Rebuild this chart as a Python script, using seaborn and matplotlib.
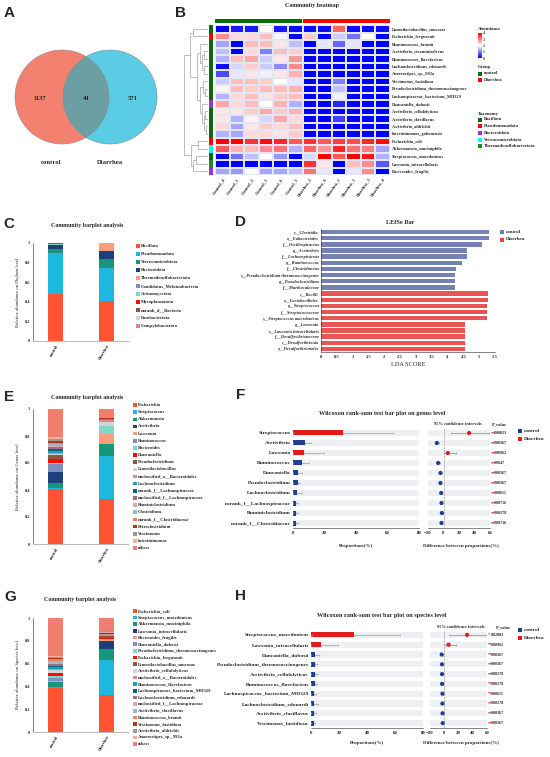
import numpy as np
import pandas as pd
import matplotlib
matplotlib.use("Agg")
import matplotlib.pyplot as plt
import seaborn as sns
from matplotlib.patches import Circle, Rectangle
from matplotlib.colors import LinearSegmentedColormap

# ---------------- data ----------------
# A: Venn
venn_groups = ["control", "Diarrhea"]
venn_counts = [1137, 44, 571]

# B: heatmap
hm_samples = ["Control_4", "Control_1", "Control_2", "Control_5", "Control_6", "Control_3",
              "Diarrhea_2", "Diarrhea_6", "Diarrhea_1", "Diarrhea_5", "Diarrhea_3", "Diarrhea_4"]
hm_species = ["Limosilactobacillus_mucosae", "Escherichia_fergusonii", "Ruminococcus_bromii",
              "Acetivibrio_straminisolvens", "Ruminococcus_flavefaciens", "Lachnoclostridium_edouardi",
              "Anaerostipes_sp._992a", "Vescimonas_fastidiosa", "Pseudoclostridium_thermosuccinogenes",
              "Lachnospiraceae_bacterium_MD329", "Duncaniella_dubosii", "Acetivibrio_cellulolyticus",
              "Acetivibrio_clariflavus", "Acetivibrio_aldrichii", "Intestinimonas_gabonensis",
              "Escherichia_coli", "Akkermansia_muciniphila", "Streptococcus_macedonicus",
              "Lawsonia_intracellularis", "Bacteroides_fragilis"]
hm_phylum = ["Bacillota", "Pseudomonadota"] + ["Bacillota"] * 8 + ["Bacteroidota"] + ["Bacillota"] * 4 + \
            ["Pseudomonadota", "Verrucomicrobiota", "Bacillota", "Thermodesulfobacteriota", "Bacteroidota"]
hm_values = [
    [0.0, 0.2, 0.2, 2.0, 0.2, 0.1, 0.1, 0.1, 3.2, 0.1, 0.1, 0.1],
    [2.9, 2.3, 2.3, 2.5, 2.1, 0.0, 2.4, 0.0, 1.6, 0.9, 2.0, 0.0],
    [1.3, 0.0, 2.5, 2.5, 2.2, 1.5, 0.0, 1.8, 0.8, 1.8, 0.0, 0.0],
    [1.5, 0.0, 2.3, 1.0, 2.5, 2.4, 0.0, 0.0, 0.0, 0.0, 0.0, 0.0],
    [1.4, 2.5, 2.7, 1.6, 2.2, 2.8, 0.0, 0.0, 0.0, 0.0, 0.0, 0.0],
    [0.1, 1.7, 2.4, 1.6, 1.1, 2.9, 0.0, 0.0, 0.0, 0.0, 0.0, 0.0],
    [0.6, 1.8, 2.2, 1.9, 2.2, 2.6, 0.0, 0.0, 0.0, 0.0, 0.0, 0.0],
    [1.6, 2.5, 2.5, 2.4, 2.0, 1.8, 0.0, 0.0, 1.0, 0.0, 0.0, 0.0],
    [2.1, 2.5, 2.4, 2.5, 2.5, 2.6, 0.0, 0.0, 1.5, 0.0, 0.0, 0.0],
    [1.4, 2.3, 2.5, 2.2, 2.4, 2.5, 0.0, 0.0, 1.9, 0.0, 0.0, 0.0],
    [2.7, 2.3, 2.5, 2.0, 2.6, 1.4, 0.0, 0.0, 0.3, 0.0, 0.0, 0.0],
    [2.2, 2.2, 2.4, 2.7, 2.4, 2.6, 0.0, 0.0, 0.0, 0.0, 0.0, 0.0],
    [2.2, 1.4, 2.1, 1.7, 2.7, 2.3, 0.0, 0.0, 0.5, 0.0, 0.0, 0.0],
    [2.3, 1.3, 2.2, 2.4, 2.3, 2.5, 0.0, 0.0, 0.0, 0.0, 0.0, 0.0],
    [1.4, 1.3, 2.3, 2.3, 2.2, 2.4, 0.0, 0.0, 0.0, 0.0, 0.0, 0.0],
    [4.0, 4.0, 3.6, 3.9, 3.7, 3.3, 3.6, 3.3, 3.5, 3.4, 3.7, 3.9],
    [3.3, 2.6, 2.5, 2.9, 3.1, 1.4, 3.2, 2.8, 3.7, 3.1, 3.0, 1.3],
    [0.0, 0.9, 1.5, 2.0, 1.2, 0.0, 1.7, 4.0, 3.3, 4.0, 3.8, 1.4],
    [0.0, 0.0, 0.0, 0.0, 0.0, 0.0, 3.6, 2.2, 0.0, 2.5, 2.9, 0.7],
    [1.3, 1.2, 2.0, 1.3, 1.3, 1.5, 3.1, 1.8, 0.0, 1.8, 2.9, 0.0],
]
# row dendrogram: (left, right, height), leaves are row indices
hm_tree = (
    ((0, 1, 3.2),
     (((2, ((3, 4, 0.8), (5, 6, 0.9), 1.2), 1.6),
       ((7, (8, 9, 0.6), 1.0), (10, ((11, 12, 0.7), (13, 14, 0.5), 0.9), 1.3), 1.7), 2.2)),
     3.8),
    ((15, 16, 2.0), ((17, 18, 2.6), 19, 3.1), 3.6),
    5.0)
tax_names = ["Bacillota", "Pseudomonadota", "Bacteroidota", "Verrucomicrobiota", "Thermodesulfobacteriota"]

# C: phylum level
phylum_names = ["Bacillota", "Pseudomonadota", "Verrucomicrobiota", "Bacteroidota", "Thermodesulfobacteriota",
                "Candidatus_Melainabacteria", "Actinomycetota", "Mycoplasmatota", "norank_d__Bacteria",
                "Fusobacteriota", "Campylobacterota"]
phylum_ctrl = [0.475, 0.42, 0.04, 0.04, 0.004, 0.004, 0.003, 0.008, 0.002, 0.002, 0.002]
phylum_dia = [0.405, 0.345, 0.09, 0.08, 0.065, 0.003, 0.008, 0.001, 0.001, 0.001, 0.001]

# D: LEfSe
lefse_taxa = ["c__Clostridia", "o__Eubacteriales", "f__Oscillospiraceae", "g__Acetivibrio",
              "f__Lachnospiraceae", "g__Ruminococcus", "f__Clostridiaceae",
              "s__Pseudoclostridium thermosuccinogenes", "g__Pseudoclostridium", "f__Muribaculaceae",
              "c__Bacilli", "o__Lactobacillales", "g__Streptococcus", "f__Streptococcaceae",
              "s__Streptococcus macedonicus", "g__Lawsonia", "s__Lawsonia intracellularis",
              "f__Desulfovibrionaceae", "c__Desulfovibrionia", "o__Desulfovibrionales"]
lefse_lda = [5.32, 5.32, 5.10, 4.61, 4.61, 4.46, 4.26, 4.22, 4.22, 4.22,
             5.29, 5.29, 5.24, 5.24, 5.24, 4.55, 4.55, 4.55, 4.55, 4.55]
lefse_group = ["control"] * 10 + ["Diarrhea"] * 10

# E: genus level
genus_names = ["Escherichia", "Streptococcus", "Akkermansia", "Acetivibrio", "Lawsonia", "Ruminococcus",
               "Bacteroides", "Duncaniella", "Pseudoclostridium", "Limosilactobacillus",
               "unclassified_o__Bacteroidales", "Lachnoclostridium", "norank_f__Lachnospiraceae",
               "unclassified_f__Lachnospiraceae", "Ruminiclostridium", "Clostridium",
               "norank_f__Clostridiaceae", "Petroclostridium", "Vescimonas", "Intestinimonas", "others"]
genus_ctrl = [0.41, 0.003, 0.04, 0.08, 0.002, 0.055, 0.01, 0.028, 0.03, 0.005, 0.01,
              0.015, 0.015, 0.012, 0.012, 0.012, 0.01, 0.015, 0.015, 0.015, 0.206]
genus_dia = [0.335, 0.315, 0.09, 0.003, 0.07, 0.003, 0.055, 0.002, 0.003, 0.025, 0.015,
             0.002, 0.002, 0.004, 0.002, 0.002, 0.001, 0.001, 0.002, 0.002, 0.066]

# F: Wilcoxon genus
wg_names = ["Streptococcus", "Acetivibrio", "Lawsonia", "Ruminococcus", "Duncaniella", "Pseudoclostridium",
            "Lachnoclostridium", "norank_f__Lachnospiraceae", "Ruminiclostridium", "norank_f__Clostridiaceae"]
wg_ctrl = [0.3, 7.8, 0.1, 5.9, 3.4, 3.0, 2.5, 2.1, 2.1, 1.9]
wg_ctrl_err = [0.3, 3.6, 0.1, 4.2, 2.3, 1.2, 3.2, 1.1, 1.1, 1.3]
wg_dia = [31.6, 0.1, 7.2, 0.1, 0.0, 0.0, 0.1, 0.0, 0.0, 0.0]
wg_dia_err = [32.1, 0.1, 12.2, 0.1, 0.0, 0.0, 0.1, 0.0, 0.0, 0.0]
wg_diff = [33.0, -8.6, 5.6, -6.9, -3.9, -3.9, -3.0, -2.6, -2.1, -2.6]
wg_lo = [9.4, -11.0, 0.0, -9.0, -5.5, -5.0, -4.5, -3.5, -3.0, -3.5]
wg_hi = [59.0, -6.0, 16.0, -5.0, -2.5, -2.8, -1.5, -1.7, -1.2, -1.7]
wg_p = ["0.00813", "0.00367", "0.00962", "0.0047", "0.00367", "0.00367", "0.00615", "0.00716", "0.00278", "0.00716"]
wg_stars = ["**"] * 10

# G: species level
species_names = ["Escherichia_coli", "Streptococcus_macedonicus", "Akkermansia_muciniphila",
                 "Lawsonia_intracellularis", "Bacteroides_fragilis", "Duncaniella_dubosii",
                 "Pseudoclostridium_thermosuccinogenes", "Escherichia_fergusonii", "Limosilactobacillus_mucosae",
                 "Acetivibrio_cellulolyticus", "unclassified_o__Bacteroidales", "Ruminococcus_flavefaciens",
                 "Lachnospiraceae_bacterium_MD329", "Lachnoclostridium_edouardi", "unclassified_f__Lachnospiraceae",
                 "Acetivibrio_clariflavus", "Ruminococcus_bromii", "Vescimonas_fastidiosa",
                 "Acetivibrio_aldrichii", "Anaerostipes_sp._992a", "others"]
species_ctrl = [0.39, 0.003, 0.045, 0.002, 0.005, 0.025, 0.025, 0.02, 0.003, 0.025, 0.01,
                0.015, 0.015, 0.01, 0.015, 0.015, 0.015, 0.01, 0.01, 0.01, 0.332]
species_dia = [0.325, 0.305, 0.095, 0.07, 0.02, 0.002, 0.002, 0.003, 0.02, 0.002, 0.015,
               0.003, 0.003, 0.003, 0.005, 0.002, 0.002, 0.003, 0.002, 0.002, 0.116]

# H: Wilcoxon species
ws_names = ["Streptococcus_macedonicus", "Lawsonia_intracellularis", "Duncaniella_dubosii",
            "Pseudoclostridium_thermosuccinogenes", "Acetivibrio_cellulolyticus", "Ruminococcus_flavefaciens",
            "Lachnospiraceae_bacterium_MD329", "Lachnoclostridium_edouardi", "Acetivibrio_clariflavus",
            "Vescimonas_fastidiosa"]
ws_ctrl = [0.3, 0.0, 2.9, 2.9, 2.9, 2.6, 2.4, 2.4, 2.4, 1.9]
ws_ctrl_err = [0.3, 0.0, 3.1, 1.4, 1.4, 1.7, 0.9, 2.6, 1.2, 1.0]
ws_dia = [31.0, 7.1, 0.0, 0.0, 0.0, 0.0, 0.0, 0.0, 0.0, 0.0]
ws_dia_err = [32.8, 11.9, 0.0, 0.0, 0.0, 0.0, 0.0, 0.0, 0.0, 0.0]
ws_diff = [32.0, 6.1, -3.6, -3.3, -3.1, -3.0, -2.6, -2.6, -2.4, -2.2]
ws_lo = [7.0, 1.0, -5.0, -4.5, -4.4, -4.3, -3.5, -4.2, -3.5, -3.2]
ws_hi = [61.0, 16.5, -2.2, -2.1, -1.8, -1.7, -1.7, -1.0, -1.3, -1.2]
ws_p = ["0.02002", "0.00962", "0.00367", "0.00367", "0.00278", "0.00278", "0.00615", "0.00278", "0.00367", "0.00367"]
ws_stars = ["*"] + ["**"] * 9

# ---------------- styles ----------------
stack_colors = ["#FF5331", "#1EB7DE", "#17977A", "#1D3F7D", "#F99C80", "#7D8DBF", "#80D6C8", "#FF0A0A",
                "#8B5940", "#D3D3D3", "#DA8A85", "#17A6BE", "#0E6574", "#A26B90", "#DDA7AE", "#8FBBD3",
                "#F0824F", "#B2361A", "#A7968A", "#F7AE98", "#F27F6E"]
tax_colors = {"Bacillota": "#0B6B0B", "Pseudomonadota": "#FF0000", "Bacteroidota": "#9B30D9",
              "Verrucomicrobiota": "#00FFFF", "Thermodesulfobacteriota": "#1E8C1E"}
group_colors = {"control": "#0B6B0B", "Diarrhea": "#FF0000"}
wil_colors = {"control": "#1F3F8F", "Diarrhea": "#E41A1C"}
lefse_colors = {"control": "#6B7DBE", "Diarrhea": "#FF3D3D"}
band = "#EEF0F3"

sns.set_style("white")
plt.rcParams["font.family"] = ["Liberation Serif", "DejaVu Serif"]
plt.rcParams["font.weight"] = "bold"
plt.rcParams["axes.linewidth"] = 0.4
plt.rcParams["xtick.major.size"] = 1.5
plt.rcParams["ytick.major.size"] = 1.5
plt.rcParams["xtick.major.width"] = 0.4
plt.rcParams["ytick.major.width"] = 0.4
plt.rcParams["xtick.major.pad"] = 1
plt.rcParams["ytick.major.pad"] = 1

W, H = 550, 757
fig = plt.figure(figsize=(5.5, 7.57), dpi=100)


def box(x0, y0, x1, y1):
    return [x0 / W, 1 - y1 / H, (x1 - x0) / W, (y1 - y0) / H]


def ftext(x, y, s, **kw):
    kw.setdefault("ha", "center")
    kw.setdefault("va", "center")
    fig.text(x / W, 1 - y / H, s, **kw)


def square(x, y, s, color):
    fig.add_artist(Rectangle((x / W, 1 - (y + s / 2) / H), s / W, s / H,
                             transform=fig.transFigure, fc=color, ec="none"))


def legend_px(labels, colors, x, y0, dy, size=3.4, sq=4):
    for i, (lab, col) in enumerate(zip(labels, colors)):
        square(x, y0 + i * dy, sq, col)
        ftext(x + sq + 1.5, y0 + i * dy, lab, fontsize=size, ha="left")


def panel_letter(x, y, s):
    ftext(x, y, s, fontsize=11, family="Liberation Sans", weight="bold")


# ---------------- A: Venn ----------------
panel_letter(9, 13, "A")
axA = fig.add_axes(box(0, 30, 180, 170))
axA.set_xlim(0, 180)
axA.set_ylim(170, 30)
axA.axis("off")
cL = Circle((62, 97), 47, fc="#F4806F", ec="none")
cR = Circle((110, 97), 47, fc="#5ACDE4", ec="none")
axA.add_patch(cL)
axA.add_patch(cR)
lens = Circle((62, 97), 47, fc="#6C9FA4", ec="none")
axA.add_patch(lens)
lens.set_clip_path(cR)
for cx in (62, 110):
    axA.add_patch(Circle((cx, 97), 47, fc="none", ec="#8A8A8A", lw=0.4))
for xx, n in zip((40, 86, 133), venn_counts):
    axA.text(xx, 99, str(n), fontsize=4.8, ha="center", va="center")
for xx, g in zip((51, 110), venn_groups):
    axA.text(xx, 162, g, fontsize=4.8, ha="center", va="center")

# ---------------- B: heatmap ----------------
panel_letter(181, 13, "B")
ftext(312, 6, "Community heatmap", fontsize=4.3)
axDen = fig.add_axes(box(183, 25, 208, 175))
axTax = fig.add_axes(box(209, 25, 213, 175))
axGrp = fig.add_axes(box(215, 19, 390, 23))
axHm = fig.add_axes(box(215, 25, 390, 175))
cax = fig.add_axes(box(478, 33, 482, 58))

hm_df = pd.DataFrame(hm_values, index=hm_species, columns=hm_samples)
cmap = LinearSegmentedColormap.from_list("bwr2", ["#0000FF", "#FFFFFF", "#FF0000"])
sns.heatmap(hm_df, ax=axHm, cmap=cmap, vmin=0, vmax=4, linewidths=0.3, linecolor="#E4E6F2",
            cbar_ax=cax, xticklabels=True, yticklabels=True)
axHm.yaxis.tick_right()
axHm.set_yticklabels(hm_species, rotation=0, fontsize=3.2)
axHm.set_xticklabels(hm_samples, rotation=55, ha="right", rotation_mode="anchor", fontsize=3.2)
axHm.tick_params(length=0, pad=1.5)
axHm.set_xlabel("")
axHm.set_ylabel("")
cax.set_yticks([0, 1, 2, 3, 4])
cax.tick_params(labelsize=2.6, length=0, pad=0.8)
for sp in cax.spines.values():
    sp.set_visible(False)

grp = ["control" if s.startswith("Control") else "Diarrhea" for s in hm_samples]
axGrp.bar(np.arange(len(hm_samples)) + 0.5, 1, width=1, color=[group_colors[g] for g in grp], lw=0)
axGrp.set_xlim(0, len(hm_samples))
axGrp.set_ylim(0, 1)
axGrp.axis("off")

axTax.barh(np.arange(len(hm_species)) + 0.5, 1, height=1, color=[tax_colors[p] for p in hm_phylum], lw=0)
axTax.set_ylim(len(hm_species), 0)
axTax.set_xlim(0, 1)
axTax.axis("off")


def draw_tree(ax, node):
    if isinstance(node, int):
        return node + 0.5, 0.0
    left, right, h = node
    yl, hl = draw_tree(ax, left)
    yr, hr = draw_tree(ax, right)
    ax.plot([hl, h, h, hr], [yl, yl, yr, yr], color="#8C8C8C", lw=0.4)
    return (yl + yr) / 2, h


draw_tree(axDen, hm_tree)
axDen.set_ylim(len(hm_species), 0)
axDen.set_xlim(5.2, 0)
axDen.axis("off")

ftext(478, 29, "Abundance", fontsize=3.4, ha="left")
ftext(478, 67, "Group", fontsize=3.4, ha="left")
legend_px(["control", "Diarrhea"], [group_colors["control"], group_colors["Diarrhea"]], 478, 73.5, 6.8)
ftext(478, 113.5, "Taxonomy", fontsize=3.4, ha="left")
legend_px(tax_names, [tax_colors[t] for t in tax_names], 478, 119.5, 6.7)


# ---------------- stacked barplots C, E, G ----------------
def stacked(rect, names, ctrl, dia, level, leg_x, leg_y0, leg_dy):
    ax = fig.add_axes(box(*rect))
    bottoms = np.zeros(2)
    for name, c, d, col in zip(names, ctrl, dia, stack_colors):
        ax.bar([0, 1], [c, d], bottom=bottoms, width=0.3, color=col, lw=0)
        bottoms = bottoms + np.array([c, d])
    ax.set_xlim(-0.44, 1.42)
    ax.set_ylim(0, 1)
    ax.set_yticks([0, 0.2, 0.4, 0.6, 0.8, 1.0])
    ax.set_yticklabels(["0", "0.2", "0.4", "0.6", "0.8", "1"], fontsize=3.2)
    ax.set_xticks([0, 1])
    ax.set_xticklabels(["control", "Diarrhea"], rotation=60, ha="right", rotation_mode="anchor", fontsize=3.2)
    ax.tick_params(axis="x", length=0, pad=2)
    ax.tick_params(axis="y", length=1.2)
    for side in ("top", "right"):
        ax.spines[side].set_visible(False)
    ax.spines["bottom"].set_color("#BBBBBB")
    ax.spines["bottom"].set_linewidth(0.8)
    ax.set_ylabel("Relative abundance on %s level" % level, fontsize=3.4, labelpad=3)
    legend_px(names, stack_colors[:len(names)], leg_x, leg_y0, leg_dy, size=3.3, sq=3.6)
    return ax


panel_letter(9, 224, "C")
ftext(87, 226, "Community barplot analysis", fontsize=4.3)
stacked((33, 243, 128, 341), phylum_names, phylum_ctrl, phylum_dia, "Phylum", 136, 246, 8.0)

panel_letter(9, 397, "E")
ftext(87, 397, "Community barplot analysis", fontsize=4.3)
stacked((33, 409, 128, 544), genus_names, genus_ctrl, genus_dia, "Genus", 133, 405, 7.15)

panel_letter(10, 597, "G")
ftext(80, 599, "Community barplot analysis", fontsize=4.3)
stacked((33, 618, 128, 732), species_names, species_ctrl, species_dia, "Species", 133, 611, 6.65)

# ---------------- D: LEfSe ----------------
panel_letter(240, 222, "D")
ftext(400, 223, "LEfSe Bar", fontsize=4.6)
axL = fig.add_axes(box(321, 229, 495, 352))
lefse_df = pd.DataFrame({"taxon": lefse_taxa, "lda": lefse_lda, "group": lefse_group})
sns.barplot(data=lefse_df, x="lda", y="taxon", hue="group", palette=lefse_colors, dodge=False,
            legend=False, width=0.72, ax=axL, linewidth=0)
axL.set_xlim(0, 5.5)
axL.set_ylim(len(lefse_taxa) - 0.5, -0.5)
axL.set_xticks(np.arange(0, 5.51, 0.5))
axL.set_xticklabels(["0", "0.5", "1", "1.5", "2", "2.5", "3", "3.5", "4", "4.5", "5", "5.5"], fontsize=3.3)
axL.tick_params(axis="y", length=0, pad=1.5, labelsize=3.2)
for t in axL.get_yticklabels():
    t.set_style("italic")
axL.set_ylabel("")
axL.set_xlabel("LDA SCORE", fontsize=4.5, labelpad=1.5)
for side in ("top", "right"):
    axL.spines[side].set_visible(False)
legend_px(["control", "Diarrhea"], [lefse_colors["control"], lefse_colors["Diarrhea"]], 500, 232, 7.5, size=3.6)


# ---------------- F, H: Wilcoxon ----------------
def wilcoxon(lrect, rrect, names, ctrl, ctrl_err, dia, dia_err, diff, lo, hi, pvals, stars,
             head_y, leg_y, xlab_y, ci_x, p_x):
    n = len(names)
    rows = np.arange(n)
    axl = fig.add_axes(box(*lrect))
    axl.barh(rows, 80, height=0.62, color=band, lw=0)
    axl.barh(rows, ctrl, height=0.5, color=wil_colors["control"], lw=0)
    axl.barh(rows, dia, height=0.5, color=wil_colors["Diarrhea"], lw=0)
    axl.errorbar(ctrl, rows, xerr=[np.zeros(n), ctrl_err], fmt="none", ecolor="#9A9A9A",
                 elinewidth=0.5, capsize=0.8, capthick=0.4)
    axl.errorbar(dia, rows, xerr=[np.zeros(n), dia_err], fmt="none", ecolor="#9A9A9A",
                 elinewidth=0.5, capsize=0.8, capthick=0.4)
    axl.set_xlim(0, 80)
    axl.set_ylim(n - 0.5, -0.5)
    axl.set_yticks(rows)
    axl.set_yticklabels(names, fontsize=3.9)
    axl.set_xticks([0, 20, 40, 60, 80])
    axl.tick_params(axis="x", labelsize=3.5)
    axl.tick_params(axis="y", length=0, pad=1.5)
    for side in ("top", "right", "left"):
        axl.spines[side].set_visible(False)

    axr = fig.add_axes(box(*rrect))
    axr.barh(rows, 80, left=-20, height=0.62, color=band, lw=0)
    axr.axvline(0, ls="--", color="#8A8A8A", lw=0.4)
    d = np.array(diff)
    axr.errorbar(d, rows, xerr=[d - np.array(lo), np.array(hi) - d], fmt="none", ecolor="#8A8A8A",
                 elinewidth=0.5, capsize=0.8, capthick=0.4)
    side_grp = ["Diarrhea" if v > 0 else "control" for v in diff]
    sns.scatterplot(x=d, y=rows, hue=side_grp, palette=wil_colors, s=9, edgecolor="none",
                    legend=False, ax=axr, zorder=3)
    axr.set_xlim(-20, 60)
    axr.set_ylim(n - 0.5, -0.5)
    axr.set_yticks([])
    axr.set_xticks([-20, 0, 20, 40, 60])
    axr.tick_params(axis="x", labelsize=3.5)
    for side in ("top", "right", "left"):
        axr.spines[side].set_visible(False)
    for i in rows:
        axr.text(1.01, i, stars[i], transform=axr.get_yaxis_transform(), color="#E41A1C",
                 fontsize=3.0, va="center", ha="left")
        axr.text(1.06, i, pvals[i], transform=axr.get_yaxis_transform(), fontsize=3.0,
                 va="center", ha="left")

    ftext(ci_x, head_y, "95% confidence intervals", fontsize=3.2)
    ftext(p_x, head_y, "P_value", fontsize=3.2)
    lmid = (lrect[0] + lrect[2]) / 2
    rmid = (rrect[0] + rrect[2]) / 2
    ftext(lmid, xlab_y, "Proportions(%)", fontsize=3.6)
    ftext(rmid + 2, xlab_y, "Difference between proportions(%)", fontsize=3.6)
    legend_px(["control", "Diarrhea"], [wil_colors["control"], wil_colors["Diarrhea"]], 518, leg_y, 8.0,
              size=3.8, sq=4.2)


panel_letter(241, 395, "F")
ftext(382, 414, "Wilcoxon rank-sum test bar plot on genus level", fontsize=4.5)
wilcoxon((293, 428, 419, 528), (428, 428, 490, 528), wg_names, wg_ctrl, wg_ctrl_err, wg_dia, wg_dia_err,
         wg_diff, wg_lo, wg_hi, wg_p, wg_stars, 424, 431, 546, 458, 499)

panel_letter(241, 596, "H")
ftext(382, 616, "Wilcoxon rank-sum test bar plot on species level", fontsize=4.5)
wilcoxon((311, 630, 423, 728), (430, 630, 487, 728), ws_names, ws_ctrl, ws_ctrl_err, ws_dia, ws_dia_err,
         ws_diff, ws_lo, ws_hi, ws_p, ws_stars, 627, 630, 743, 461, 503)

fig.savefig("out.png", dpi=100)
